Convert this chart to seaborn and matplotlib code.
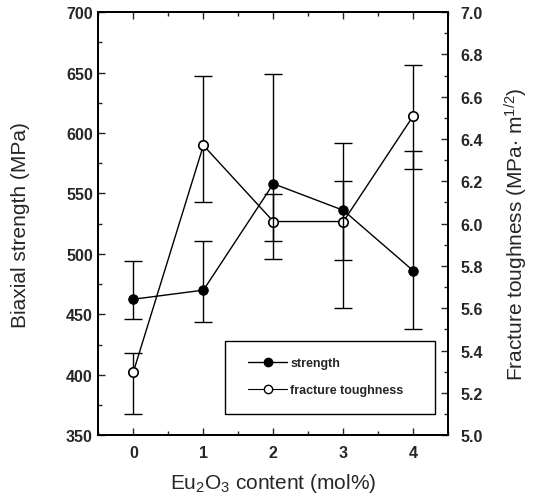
import numpy as np
import pandas as pd
import seaborn as sns
import matplotlib.pyplot as plt
from matplotlib.lines import Line2D
from matplotlib.patches import Rectangle
from matplotlib.ticker import MultipleLocator

eu_content = [0, 1, 2, 3, 4]
strength = [462.5, 470, 558, 536, 486]
strength_lo = [446, 443.5, 496, 495, 438]
strength_hi = [494, 511, 649, 560, 585]
toughness = [5.30, 6.37, 6.01, 6.01, 6.51]
toughness_lo = [5.10, 6.10, 5.92, 5.60, 6.26]
toughness_hi = [5.39, 6.70, 6.14, 6.38, 6.75]


def main():
    sns.set_style("ticks")
    plt.rcParams['font.family'] = ['Liberation Sans', 'DejaVu Sans']
    plt.rcParams['mathtext.default'] = 'regular'

    df = pd.DataFrame({'x': eu_content, 'strength': strength, 'toughness': toughness})

    fig = plt.figure(figsize=(5.35, 5.02), dpi=100)
    ax = fig.add_axes([0.184, 0.131, 0.654, 0.843])
    ax2 = ax.twinx()

    # error bars first so markers sit on top
    s = np.array(strength)
    t = np.array(toughness)
    ax.errorbar(eu_content, s, yerr=[s - np.array(strength_lo), np.array(strength_hi) - s],
                fmt='none', ecolor='black', elinewidth=1, capsize=6.5, capthick=1, zorder=1)
    ax2.errorbar(eu_content, t, yerr=[t - np.array(toughness_lo), np.array(toughness_hi) - t],
                 fmt='none', ecolor='black', elinewidth=1, capsize=6.5, capthick=1, zorder=1)

    sns.lineplot(data=df, x='x', y='strength', ax=ax, color='black', lw=1,
                 marker='o', markersize=6.8, markerfacecolor='black',
                 markeredgecolor='black', zorder=3)
    sns.lineplot(data=df, x='x', y='toughness', ax=ax2, color='black', lw=1,
                 marker='o', markersize=6.8, markerfacecolor='white',
                 markeredgecolor='black', markeredgewidth=1.2, zorder=3)

    ax.set_xlim(-0.5, 4.5)
    ax.set_ylim(350, 700)
    ax2.set_ylim(5.0, 7.0)
    ax.xaxis.set_major_locator(MultipleLocator(1))
    ax.xaxis.set_minor_locator(MultipleLocator(0.5))
    ax.yaxis.set_major_locator(MultipleLocator(50))
    ax.yaxis.set_minor_locator(MultipleLocator(25))
    ax2.yaxis.set_major_locator(MultipleLocator(0.2))
    ax2.yaxis.set_minor_locator(MultipleLocator(0.1))
    ax2.yaxis.set_major_formatter(plt.FormatStrFormatter('%.1f'))

    ax.tick_params(axis='x', which='both', direction='in', top=True, labelsize=11.5, pad=7)
    ax.tick_params(axis='y', which='both', direction='in', labelsize=11.5, pad=4)
    ax.tick_params(which='major', length=5, width=1)
    ax.tick_params(which='minor', length=3, width=1)
    ax2.tick_params(axis='y', which='both', direction='in', labelsize=11.5, pad=9)
    ax2.tick_params(which='major', length=5, width=1)
    ax2.tick_params(which='minor', length=3, width=1)
    for a in (ax, ax2):
        for lbl in a.get_xticklabels() + a.get_yticklabels():
            lbl.set_fontweight('bold')
        for sp in a.spines.values():
            sp.set_visible(True)
            sp.set_linewidth(1.3)
            sp.set_color('black')

    ax.set_xlabel('Eu$_2$O$_3$ content (mol%)', fontsize=15, labelpad=8)
    ax.set_ylabel('Biaxial strength (MPa)', fontsize=15, labelpad=26)
    ax2.set_ylabel('Fracture toughness (MPa$\\cdot$ m$^{1/2}$)', fontsize=15)
    ax2.yaxis.set_label_coords(1.155, 0.476)

    # legend frame drawn separately so the entries can sit inset like the original
    ax.add_patch(Rectangle((0.363, 0.05), 0.6, 0.172, transform=ax.transAxes,
                           facecolor='white', edgecolor='black', lw=1, zorder=4))
    handles = [
        Line2D([], [], color='black', lw=1, marker='o', markersize=6,
               markerfacecolor='black', markeredgecolor='black'),
        Line2D([], [], color='black', lw=0.8, marker='o', markersize=6,
               markerfacecolor='white', markeredgecolor='black'),
    ]
    leg = ax.legend(handles, ['strength', 'fracture toughness'], loc='center left',
                    bbox_to_anchor=(0.428, 0.138), frameon=False,
                    handlelength=3.1, borderpad=0, labelspacing=1.2,
                    handletextpad=0.25, borderaxespad=0,
                    prop={'weight': 'bold', 'size': 9})
    leg.set_zorder(5)
    ax.set_zorder(ax2.get_zorder() + 1)
    ax.patch.set_visible(False)

    plt.savefig('out.png', dpi=100)
    plt.close()


if __name__ == "__main__":
    main()
